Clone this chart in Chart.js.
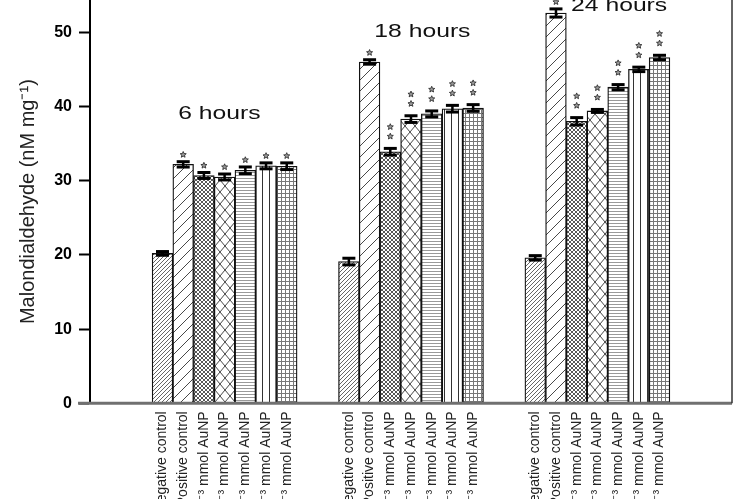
<!DOCTYPE html>
<html>
<head>
<meta charset="utf-8">
<script src="https://cdn.jsdelivr.net/npm/chart.js@4.4.1/dist/chart.umd.min.js"></script>
<style>
html,body{margin:0;padding:0;background:#fff;overflow:hidden}
#wrap{width:750px;height:499px;position:relative}
</style>
</head>
<body>
<div id="wrap"><canvas id="c" width="750" height="499"></canvas></div>
<script>
// ---------------- data ----------------
const groups = ['6 hours', '18 hours', '24 hours'];
const treatments = [
  'Negative control',
  'Positive control',
  '0.5×10⁻³ mmol AuNP',
  '1×10⁻³ mmol AuNP',
  '2×10⁻³ mmol AuNP',
  '4×10⁻³ mmol AuNP',
  '8×10⁻³ mmol AuNP'
];
const values6h  = [20.2, 32.2, 30.7, 30.5, 31.4, 32.0, 31.95];
const values18h = [19.1, 46.0, 33.9, 38.3, 39.0, 39.7, 39.8];
const values24h = [19.6, 52.6, 38.0, 39.4, 42.6, 45.0, 46.6];
const errors6h  = [0.25, 0.36, 0.4, 0.4, 0.45, 0.4, 0.45];
const errors18h = [0.45, 0.3, 0.45, 0.45, 0.4, 0.45, 0.45];
const errors24h = [0.3, 0.55, 0.5, 0.2, 0.35, 0.3, 0.3];
const stars6h  = [0, 1, 1, 1, 1, 1, 1];
const stars18h = [0, 1, 2, 2, 2, 2, 2];
const stars24h = [0, 1, 2, 2, 2, 2, 2];
const yTicks = [0, 10, 20, 30, 40, 50];
const yMax = 54.35;
const yTitle = 'Malondialdehyde (nM mg⁻¹)';
// group caption anchors (value units / slot offsets from group centre)
const captionY  = [39.0, 50.1, 53.6];
const captionDX = [-0.25, 0.55, 1.05];

// ---------------- layout of slots ----------------
const LEAD = 3, GAP = 2, TAIL = 3;

// ---------------- patterns ----------------
function tile(w, h, draw) {
  const c = document.createElement('canvas');
  c.width = w; c.height = h;
  const g = c.getContext('2d');
  g.fillStyle = '#fff'; g.fillRect(0, 0, w, h);
  draw(g, w, h);
  return g.createPattern(c, 'repeat');
}
function seg(g, x1, y1, x2, y2) { g.beginPath(); g.moveTo(x1, y1); g.lineTo(x2, y2); g.stroke(); }
function diagUp(g, s) { seg(g, 0, s, s, 0); seg(g, -s, s, s, -s); seg(g, 0, 2*s, 2*s, 0); }
function diagDown(g, s) { seg(g, 0, 0, s, s); seg(g, -s, 0, s, 2*s); seg(g, 0, -s, 2*s, s); }

const patterns = [
  tile(4, 4, (g, w) => { g.strokeStyle = '#666'; g.lineWidth = 1; diagUp(g, w); }),
  tile(11, 11, (g, w) => { g.strokeStyle = '#333'; g.lineWidth = 0.9; diagUp(g, w); }),
  tile(4, 4, (g, w) => { g.strokeStyle = '#444'; g.lineWidth = 0.9; diagUp(g, w); diagDown(g, w); }),
  tile(10, 12, (g, w, h) => { g.strokeStyle = '#333'; g.lineWidth = 0.9;
      seg(g, 0, 0, w, h); seg(g, 0, h, w, 0); }),
  tile(4, 3, (g, w, h) => { g.strokeStyle = '#999'; g.lineWidth = 1; seg(g, 0, 1.5, w, 1.5); }),
  tile(7, 4, (g, w, h) => { g.strokeStyle = '#333'; g.lineWidth = 1; seg(g, 3.5, 0, 3.5, h); }),
  tile(4, 4, (g, w, h) => { g.strokeStyle = '#777'; g.lineWidth = 1; seg(g, 1.5, 0, 1.5, h); seg(g, 0, 1.5, w, 1.5); })
];

// ---------------- build slot arrays ----------------
const seriesValues = [values6h, values18h, values24h];
const seriesErrors = [errors6h, errors18h, errors24h];
const seriesStars  = [stars6h, stars18h, stars24h];
const labels = [], data = [], errs = [], starCounts = [], fills = [], groupCentres = [];
function pad(n) {
  for (let i = 0; i < n; i++) { labels.push(''); data.push(null); errs.push(null); starCounts.push(0); fills.push('#fff'); }
}
pad(LEAD);
groups.forEach((g, gi) => {
  const start = labels.length;
  treatments.forEach((t, ti) => {
    labels.push(t);
    data.push(seriesValues[gi][ti]);
    errs.push(seriesErrors[gi][ti]);
    starCounts.push(seriesStars[gi][ti]);
    fills.push(patterns[ti]);
  });
  groupCentres.push(start + (treatments.length - 1) / 2);
  pad(gi < groups.length - 1 ? GAP : TAIL);
});

// ---------------- drawing helpers ----------------
function line(ctx, x1, y1, x2, y2) { ctx.beginPath(); ctx.moveTo(x1, y1); ctx.lineTo(x2, y2); ctx.stroke(); }
function star(ctx, cx, cy, r) {
  ctx.beginPath();
  for (let k = 0; k < 10; k++) {
    const rr = k % 2 ? r * 0.45 : r;
    const a = -Math.PI / 2 + k * Math.PI / 5;
    ctx.lineTo(cx + rr * Math.cos(a), cy + rr * Math.sin(a));
  }
  ctx.closePath();
  ctx.fillStyle = '#999'; ctx.fill();
  ctx.strokeStyle = '#222'; ctx.lineWidth = 0.8; ctx.stroke();
}

const deco = {
  id: 'deco',
  afterDatasetsDraw(chart) {
    const ctx = chart.ctx, xs = chart.scales.x, ys = chart.scales.y, a = chart.chartArea;
    ctx.save();
    // baseline
    ctx.strokeStyle = '#707070'; ctx.lineWidth = 3;
    const y0 = ys.getPixelForValue(0);
    line(ctx, a.left - 12, y0, a.right, y0);
    // right frame
    ctx.strokeStyle = '#333'; ctx.lineWidth = 1.5;
    line(ctx, a.right, a.top, a.right, y0);
    // error bars + stars
    data.forEach((v, i) => {
      if (v == null) return;
      const cx = xs.getPixelForValue(i);
      const yt = ys.getPixelForValue(v + errs[i]);
      const yb = ys.getPixelForValue(v - errs[i]);
      ctx.strokeStyle = '#000';
      ctx.lineWidth = 2.5; line(ctx, cx, yt, cx, yb);
      ctx.lineWidth = 3; line(ctx, cx - 6.5, yt, cx + 6.5, yt); line(ctx, cx - 6.5, yb, cx + 6.5, yb);
      const n = starCounts[i];
      const first = n > 1 ? 12 : 7;
      for (let s = 0; s < n; s++) star(ctx, cx, yt - first - s * 9.5, 3.2);
    });
    // group captions
    ctx.fillStyle = '#111';
    ctx.font = '19px "Liberation Sans", Arial, sans-serif';
    ctx.textAlign = 'center'; ctx.textBaseline = 'middle';
    groups.forEach((g, gi) => {
      const cx = xs.getPixelForValue(groupCentres[gi] + captionDX[gi]);
      const cy = ys.getPixelForValue(captionY[gi]);
      ctx.save(); ctx.translate(cx, cy); ctx.scale(1.3, 1); ctx.fillText(g, 0, 0); ctx.restore();
    });
    ctx.restore();
  }
};

new Chart(document.getElementById('c'), {
  type: 'bar',
  data: {
    labels: labels,
    datasets: [{
      data: data,
      backgroundColor: fills,
      borderColor: '#111',
      borderWidth: 1.3,
      borderSkipped: 'bottom',
      barPercentage: 1,
      categoryPercentage: 1
    }]
  },
  options: {
    responsive: false,
    animation: false,
    devicePixelRatio: 1,
    layout: { padding: { left: 0, right: 18, top: 0, bottom: 0 } },
    plugins: { legend: { display: false }, tooltip: { enabled: false } },
    scales: {
      x: {
        type: 'category',
        grid: { display: false, drawTicks: false },
        border: { display: false },
        ticks: {
          autoSkip: false, maxRotation: 90, minRotation: 90, padding: 8,
          color: '#222', font: { family: 'Liberation Sans', size: 14 }
        },
        afterFit(s) { s.height = 95.7; s.paddingLeft = 0; s.paddingRight = 0; }
      },
      y: {
        min: 0, max: yMax,
        afterBuildTicks(s) { s.ticks = yTicks.map(v => ({ value: v })); },
        ticks: { padding: 7, color: '#000', font: { family: 'Liberation Sans', size: 16, weight: 'bold' } },
        grid: { drawOnChartArea: false, drawTicks: true, tickLength: 11, tickColor: '#000', tickWidth: 2 },
        border: { display: true, color: '#000', width: 2 },
        title: {
          display: true, text: yTitle, color: '#222',
          font: { family: 'Liberation Sans', size: 20 },
          padding: { top: 16, bottom: 0 }
        },
        afterFit(s) { s.width = 90; s.paddingTop = 0; s.paddingBottom = 0; }
      }
    }
  },
  plugins: [deco]
});
</script>
</body>
</html>
